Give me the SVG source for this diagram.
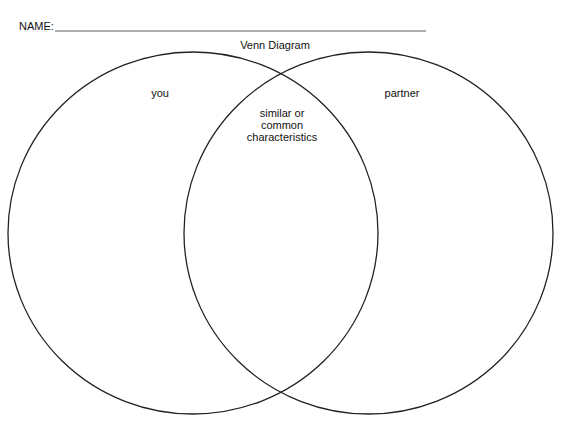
<svg xmlns="http://www.w3.org/2000/svg" width="564" height="423" viewBox="0 0 564 423">
<style>
text{font-family:"Liberation Sans",Arial,sans-serif;font-size:11px;fill:#111}
.c{fill:none;stroke:#222;stroke-width:1.3}
</style>
<rect width="564" height="423" fill="#fff"/>
<g id="header">
<text x="19" y="30">NAME:</text>
<line x1="55" y1="31" x2="426" y2="31" stroke="#333" stroke-width="0.8"/>
<text x="275" y="49" text-anchor="middle">Venn Diagram</text>
</g>
<g id="you">
<ellipse class="c" cx="193" cy="233" rx="185" ry="181"/>
<text x="160" y="97" text-anchor="middle">you</text>
</g>
<g id="partner">
<ellipse class="c" cx="368.5" cy="233" rx="184.5" ry="181"/>
<text x="402" y="97" text-anchor="middle">partner</text>
</g>
<g id="common">
<text x="282" y="117" text-anchor="middle">similar or</text>
<text x="282" y="129" text-anchor="middle">common</text>
<text x="282" y="141" text-anchor="middle">characteristics</text>
</g>
<g id="connectors"></g>
</svg>
